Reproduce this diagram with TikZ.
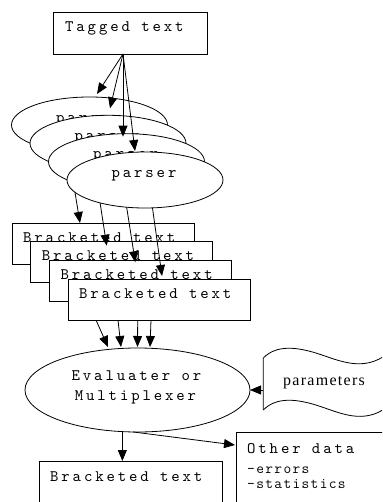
\documentclass[tikz,border=0pt]{standalone}
\usepackage{fontspec}
\usetikzlibrary{shapes.geometric,arrows.meta,calc}
\newfontfamily\serifface[LetterSpace=8]{Liberation Serif}
\newfontfamily\monobigface[LetterSpace=18]{lmmono10-regular.otf}
\newfontfamily\monosmface[LetterSpace=9]{lmmono12-regular.otf}
\newcommand\bigmono{\monobigface\fontsize{16pt}{18pt}\selectfont}
\newcommand\smallmono{\monosmface\fontsize{15pt}{17pt}\selectfont}
\tikzset{
  ln/.style={line width=0.8pt},
  arr/.style={ln, -{Triangle[length=11pt,width=9pt]}},
  boxnode/.style={draw, ln, fill=white, rectangle, inner sep=0pt, outer sep=0pt},
  ellnode/.style={draw, ln, fill=white, ellipse, inner sep=0pt, outer sep=0pt},
  bigtxt/.style={font=\bigmono, inner sep=0pt, anchor=base west},
  smtxt/.style={font=\smallmono, inner sep=0pt, anchor=base west},
  partxt/.style={font={\serifface\fontsize{16pt}{18pt}\selectfont}, inner sep=0pt, anchor=base},
  bracketbox/.style={boxnode, minimum width=182pt, minimum height=41pt},
  parserell/.style={ellnode, minimum width=156pt, minimum height=56pt}
}
\begin{document}
\begin{tikzpicture}[x=1pt,y=-1pt]
\useasboundingbox (0,0) rectangle (382,502);
\fill[white] (0,0) rectangle (382,502);
\clip (0,0) rectangle (382,502);

% Tagged text
\node[boxnode, minimum width=154pt, minimum height=42pt] (tag) at (130,33) {};
\node[bigtxt] (tagt) at ($(tag.north west)+(12,20)$) {Tagged text};

% parsers
\foreach \i/\cx/\cy in {1/89.5/125, 2/108/143.3, 3/126.5/161.7, 4/145/180} {
  \node[parserell] (p\i) at (\cx,\cy) {};
  \node[bigtxt, anchor=base] (pt\i) at ($(p\i.center)+(-1,-2.7)$) {parser};
}

\coordinate (tago) at ($(tag.south)+(-7,0)$);
\draw[arr] (tago) -- ($(p1.center)+(7.5,-31)$);
\draw[arr] (tago) -- ($(p2.center)+(2,-35)$);
\draw[arr] (tago) -- ($(p3.center)+(-3.5,-25)$);
\draw[arr] (tago) -- ($(p4.center)+(-10,-29)$);

% bracketed text boxes
\foreach \i/\cx/\cy in {1/103/243.5, 2/121.7/262.2, 3/140.3/280.8, 4/159/299.5} {
  \node[bracketbox] (b\i) at (\cx,\cy) {};
  \node[bigtxt] (bt\i) at ($(b\i.north west)+(11,19)$) {Bracketed text};
}

\draw[arr] (p4.190.6) -- ($(b1.north west)+(68,0)$);
\draw[arr] (p4.207.3) -- ($(b2.north west)+(76,4)$);
\draw[arr] (p4.236.5) -- ($(b3.north west)+(86,2)$);
\draw[arr] (p4.285) -- ($(b4.north west)+(94,-3)$);

% evaluator
\node[ellnode, minimum width=225pt, minimum height=84pt] (ev) at (137.5,390) {};
\node[bigtxt, anchor=base] (evt1) at ($(ev.center)+(-1,-10)$) {Evaluater or};
\node[bigtxt, anchor=base] (evt2) at ($(ev.center)+(-2,10)$) {Multiplexer};

\draw[arr] ($(b4.south west)+(28,0)$) -- ($(ev.north)+(-29.5,-1)$);
\draw[arr] ($(b4.south west)+(50,0)$) -- ($(ev.north)+(-16.5,-1)$);
\draw[arr] ($(b4.south west)+(69.7,0)$) -- ($(ev.north)+(0,-1)$);
\draw[arr] ($(b4.south west)+(83,0)$) -- ($(ev.north)+(12.5,-1)$);

% parameters (wavy)
\draw[ln] (263.3,410) -- (263.3,358)
  .. controls (276,345) and (296,346) .. (322,355)
  .. controls (345,363) and (368,372) .. (392,350);
\draw[ln] (263.3,410)
  .. controls (276,397) and (296,398) .. (322,407)
  .. controls (345,415) and (368,425) .. (392,403);
\node[partxt] (par) at (324,385) {parameters};
\coordinate (parw) at (263.3,390);
\draw[arr] (parw) -- (ev.east);

% outputs
\node[boxnode, minimum width=183pt, minimum height=59pt] (bot) at (130.5,490.5) {};
\node[bigtxt] (bott) at ($(bot.north west)+(11,20)$) {Bracketed text};
\node[boxnode, minimum width=164pt, minimum height=88pt] (oth) at (318,476) {};
\node[bigtxt] (otht) at ($(oth.north west)+(11,21)$) {Other data};
\node[smtxt] (oth1) at ($(oth.north west)+(11,41)$) {-errors};
\node[smtxt] (oth2) at ($(oth.north west)+(11,56)$) {-statistics};

\draw[arr] (ev.250.8) -- (ev.250.8 |- bot.north);
\draw[arr] (ev.264) -- ($(oth.north west)+(-1,13)$);
\end{tikzpicture}
\end{document}
